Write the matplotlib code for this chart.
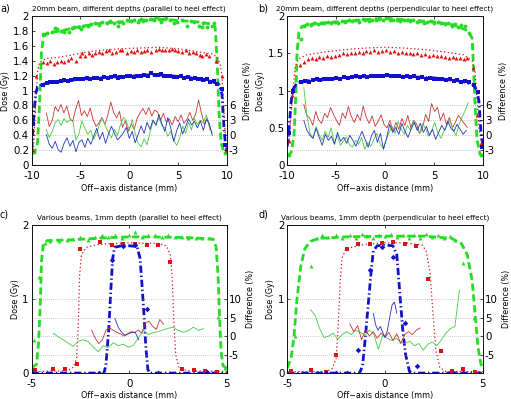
import numpy as np
import matplotlib
matplotlib.use("Agg")
import matplotlib.pyplot as plt
from matplotlib.ticker import FormatStrFormatter

plt.rcParams['font.family'] = ['DejaVu Sans']

GREEN = '#22dd22'
RED = '#dd1111'
BLUE = '#1111cc'
DGREEN = '#44cc44'
DRED = '#cc3333'
DBLUE = '#2233bb'

# ---------------- Panel a ----------------
a_green_x = [-10, -9.7, -9.4, -9.2, -9.0, -8.8, -8.5, -8, -7, -6, -5, -4, -3, -2, -1, 0, 1, 2, 3, 4, 5, 6, 7, 8, 8.5, 8.8, 9.0, 9.2, 9.4, 9.7, 10]
a_green_y = [0.15, 0.17, 0.3, 0.8, 1.5, 1.72, 1.76, 1.78, 1.8, 1.83, 1.86, 1.88, 1.9, 1.91, 1.92, 1.93, 1.94, 1.95, 1.95, 1.95, 1.94, 1.93, 1.92, 1.9, 1.89, 1.85, 1.4, 0.7, 0.3, 0.17, 0.15]
a_red_x = [-10, -9.8, -9.6, -9.4, -9.2, -8.5, -7, -5, -3, -1, 1, 3, 5, 7, 8.5, 9.0, 9.3, 9.5, 9.7, 9.9, 10]
a_red_y = [0.2, 0.25, 0.8, 1.25, 1.38, 1.43, 1.45, 1.5, 1.54, 1.56, 1.57, 1.58, 1.56, 1.52, 1.49, 1.45, 1.35, 1.2, 0.7, 0.25, 0.2]
a_blue_x = [-10, -9.85, -9.6, -9.4, -9, -8, -6, -4, -2, 0, 2, 3, 5, 7, 8.5, 9.2, 9.5, 9.7, 9.85, 10]
a_blue_y = [0.2, 0.55, 0.95, 1.05, 1.08, 1.11, 1.14, 1.16, 1.18, 1.19, 1.21, 1.21, 1.19, 1.16, 1.12, 1.08, 0.95, 0.5, 0.28, 0.2]

a_gm_x = [-9.8, -8.8, -8.4, -7.9, -7.6, -7.4, -7.0, -6.7, -6.2, -5.9, -5.7, -5.2, -4.9, -4.7, -4.2, -3.9, -3.5, -3.1, -2.8, -2.3, -2.0, -1.6, -1.2, -1.1, -0.6, -0.2, 0.2, 0.5, 0.9, 1.15, 1.4, 1.7, 2.2, 2.5, 2.7, 3.0, 3.3, 3.5, 3.8, 4.2, 4.6, 4.9, 5.4, 5.9, 6.3, 6.6, 7.1, 7.4, 7.6, 8.0, 8.5, 8.7, 9.8]
a_gm_y = [0.18, 1.76, 1.77, 1.79, 1.84, 1.83, 1.80, 1.79, 1.79, 1.84, 1.85, 1.85, 1.83, 1.87, 1.87, 1.89, 1.90, 1.88, 1.92, 1.90, 1.93, 1.91, 1.87, 1.92, 1.90, 1.94, 1.93, 1.94, 1.92, 1.96, 1.93, 1.94, 1.96, 1.94, 1.99, 1.96, 1.92, 1.96, 1.97, 1.94, 1.90, 1.92, 1.94, 1.87, 1.93, 1.92, 1.87, 1.85, 1.90, 1.85, 1.87, 1.90, 0.17]
a_rm_x = [-9.85, -9.55, -8.8, -8.4, -8.1, -7.7, -7.4, -7.0, -6.7, -6.3, -6.0, -5.5, -5.1, -4.8, -4.5, -4.15, -3.8, -3.5, -3.1, -2.8, -2.4, -2.1, -1.8, -1.4, -1.0, -0.7, -0.2, 0.2, 0.5, 0.8, 1.15, 1.5, 1.8, 2.2, 2.7, 3.0, 3.4, 3.7, 4.1, 4.4, 4.7, 5.0, 5.4, 5.8, 6.1, 6.5, 6.8, 7.2, 7.5, 7.9, 8.2, 8.85, 9.5, 9.9]
a_rm_y = [0.20, 1.20, 1.38, 1.37, 1.40, 1.36, 1.38, 1.40, 1.38, 1.41, 1.43, 1.40, 1.46, 1.50, 1.47, 1.50, 1.48, 1.50, 1.52, 1.50, 1.53, 1.54, 1.51, 1.52, 1.55, 1.54, 1.50, 1.53, 1.52, 1.55, 1.52, 1.53, 1.54, 1.52, 1.54, 1.56, 1.54, 1.55, 1.54, 1.56, 1.54, 1.53, 1.52, 1.54, 1.50, 1.52, 1.50, 1.48, 1.47, 1.49, 1.47, 1.40, 1.20, 0.20]
a_bm_x = [-9.85, -8.8, -8.4, -8.1, -7.7, -7.4, -7.0, -6.7, -6.3, -6.0, -5.6, -5.3, -5.0, -4.7, -4.3, -4.0, -3.6, -3.3, -2.9, -2.6, -2.2, -1.9, -1.5, -1.2, -0.9, -0.6, -0.2, 0.1, 0.5, 0.8, 1.2, 1.5, 1.9, 2.2, 2.6, 2.9, 3.2, 3.55, 3.9, 4.2, 4.6, 4.9, 5.3, 5.6, 6.0, 6.3, 6.7, 7.0, 7.3, 7.6, 8.0, 8.3, 8.7, 9.0, 9.5, 9.85]
a_bm_y = [0.55, 1.08, 1.10, 1.11, 1.12, 1.11, 1.13, 1.14, 1.13, 1.14, 1.15, 1.16, 1.15, 1.16, 1.17, 1.16, 1.17, 1.17, 1.16, 1.18, 1.17, 1.18, 1.19, 1.17, 1.18, 1.18, 1.19, 1.20, 1.18, 1.20, 1.19, 1.21, 1.20, 1.23, 1.21, 1.21, 1.22, 1.20, 1.19, 1.20, 1.18, 1.18, 1.19, 1.17, 1.18, 1.16, 1.17, 1.16, 1.15, 1.14, 1.15, 1.12, 1.13, 1.09, 1.02, 0.27]

a_dred_range = (-8.5, 8.3)
a_dred = [4.5, 1.8, 3.0, 5.8, 4.8, 6.2, 4.5, 5.9, 3.5, 2.8, 5.2, 7.0, 4.0, 4.9, 3.8, 5.5, 3.1, 1.8, 2.5, 3.6, 2.2, 4.0, 6.7, 4.6, 3.5, 4.8, 1.6, 2.9, 0.8, 2.3, 1.2, 3.4, 4.5, 5.4, 4.2, 5.6, 3.9, 5.1, 4.7, 3.0, 4.4, 2.6, 3.3, 2.1, 3.8, 2.7, 4.1, 2.4, 3.2, 4.6, 3.0, 4.3, 7.1, 4.4, 2.2, 3.5, 1.0]
a_dgreen_range = (-8.5, 8.5)
a_dgreen = [1.2, -0.5, 0.8, 2.5, 3.2, 2.0, 3.4, 2.6, 3.1, 2.8, -1.0, 0.3, 2.9, 1.5, 0.2, 1.0, -0.8, 0.5, 2.4, 3.3, 1.8, 0.6, -0.5, 1.2, 0.0, 2.1, 3.6, 2.9, 1.0, 3.2, 0.4, -1.6, -2.3, -0.7, -1.9, 0.6, 2.8, 2.2, 3.5, 2.0, 1.5, -0.2, 0.8, -1.0, -2.0, -0.6, 1.9, 0.4, 2.6, 1.1, 3.4, 2.2, 3.0, 2.5, 4.1, 1.8, 0.5]
a_dblue_range = (-8.5, 8.5)
a_dblue = [0.2, -1.8, -2.6, -1.2, -2.9, -3.4, -1.6, -0.5, -2.2, -1.0, -3.3, -1.4, -0.9, -2.4, -0.6, -1.8, -0.2, 1.4, -0.8, 0.6, -1.6, 0.3, 1.8, 0.4, -0.9, -0.3, 0.5, 1.6, -0.6, 0.8, -1.5, 0.2, 1.9, 0.4, 2.6, 1.2, 3.1, 2.0, 4.2, 2.3, 0.8, 3.6, 1.4, -1.2, 0.9, 2.5, 0.3, 1.7, 3.3, 2.1, 2.8, 1.5, 2.9, 1.0, 3.2, 2.4, 0.0]

# ---------------- Panel b ----------------
b_green_x = [-10, -9.6, -9.3, -9.1, -9.0, -8.8, -8.5, -7, -5, -3, -1, 0, 1, 3, 5, 7, 8.5, 8.9, 9.05, 9.2, 9.4, 9.7, 10]
b_green_y = [0.12, 0.17, 0.4, 1.0, 1.5, 1.78, 1.86, 1.9, 1.92, 1.94, 1.96, 1.97, 1.96, 1.94, 1.92, 1.88, 1.8, 1.7, 1.3, 0.8, 0.35, 0.15, 0.12]
b_red_x = [-10, -9.8, -9.6, -9.4, -9.2, -8.9, -8, -6, -4, -2, 0, 2, 4, 6, 8, 8.9, 9.2, 9.4, 9.6, 9.8, 10]
b_red_y = [0.3, 0.35, 0.7, 1.0, 1.3, 1.42, 1.48, 1.52, 1.55, 1.57, 1.58, 1.57, 1.55, 1.52, 1.48, 1.4, 1.25, 0.9, 0.5, 0.35, 0.3]
b_blue_x = [-10, -9.85, -9.6, -9.4, -9, -8, -5, -2, 0, 2, 5, 8, 9, 9.4, 9.6, 9.8, 10]
b_blue_y = [0.25, 0.43, 0.85, 1.02, 1.1, 1.13, 1.16, 1.19, 1.2, 1.19, 1.17, 1.12, 1.08, 1.0, 0.85, 0.45, 0.25]

b_gm_x = [-9.8, -8.6, -8.3, -8.0, -7.6, -7.3, -6.9, -6.5, -6.2, -5.8, -5.5, -5.1, -4.8, -4.4, -4.1, -3.7, -3.4, -3.0, -2.7, -2.3, -2.0, -1.6, -1.3, -0.9, -0.6, -0.2, 0.1, 0.5, 0.8, 1.2, 1.5, 1.9, 2.2, 2.6, 2.9, 3.3, 3.6, 4.0, 4.3, 4.7, 5.0, 5.4, 5.7, 6.1, 6.4, 6.8, 7.1, 7.5, 7.8, 8.2, 8.6, 9.8]
b_gm_y = [0.13, 1.69, 1.86, 1.89, 1.88, 1.90, 1.89, 1.91, 1.90, 1.92, 1.91, 1.92, 1.91, 1.93, 1.92, 1.94, 1.93, 1.95, 1.92, 1.96, 1.94, 1.93, 1.95, 1.94, 1.96, 1.95, 1.97, 1.95, 1.94, 1.95, 1.93, 1.94, 1.95, 1.93, 1.94, 1.92, 1.93, 1.91, 1.92, 1.93, 1.90, 1.92, 1.91, 1.89, 1.90, 1.87, 1.89, 1.85, 1.88, 1.86, 1.77, 0.14]
b_rm_x = [-9.8, -9.5, -8.7, -8.3, -7.9, -7.5, -7.1, -6.7, -6.3, -5.9, -5.5, -5.1, -4.7, -4.3, -3.9, -3.5, -3.1, -2.7, -2.3, -1.9, -1.5, -1.1, -0.7, -0.3, 0.1, 0.5, 0.9, 1.3, 1.7, 2.1, 2.5, 2.9, 3.3, 3.7, 4.1, 4.5, 4.9, 5.3, 5.7, 6.1, 6.5, 6.9, 7.3, 7.7, 8.1, 8.4, 9.0, 9.4, 9.8]
b_rm_y = [0.32, 0.94, 1.34, 1.38, 1.42, 1.44, 1.42, 1.45, 1.44, 1.46, 1.45, 1.47, 1.48, 1.50, 1.49, 1.51, 1.50, 1.52, 1.51, 1.53, 1.52, 1.54, 1.52, 1.53, 1.54, 1.52, 1.53, 1.51, 1.52, 1.50, 1.51, 1.49, 1.50, 1.48, 1.49, 1.47, 1.48, 1.46, 1.47, 1.45, 1.44, 1.45, 1.43, 1.44, 1.42, 1.43, 1.30, 0.67, 0.30]
b_bm_x = [-9.85, -9.4, -8.6, -8.2, -7.8, -7.4, -7.0, -6.6, -6.2, -5.8, -5.4, -5.0, -4.6, -4.2, -3.8, -3.4, -3.0, -2.6, -2.2, -1.8, -1.4, -1.0, -0.6, -0.2, 0.2, 0.6, 1.0, 1.4, 1.8, 2.2, 2.6, 3.0, 3.4, 3.8, 4.2, 4.6, 5.0, 5.4, 5.8, 6.2, 6.6, 7.0, 7.4, 7.8, 8.2, 8.6, 9.1, 9.55, 9.9]
b_bm_y = [0.43, 1.00, 1.12, 1.13, 1.12, 1.14, 1.15, 1.14, 1.16, 1.15, 1.16, 1.17, 1.16, 1.18, 1.17, 1.18, 1.19, 1.18, 1.19, 1.18, 1.20, 1.19, 1.20, 1.19, 1.21, 1.20, 1.19, 1.20, 1.18, 1.19, 1.18, 1.19, 1.17, 1.18, 1.16, 1.17, 1.16, 1.15, 1.16, 1.14, 1.15, 1.13, 1.14, 1.12, 1.13, 1.11, 1.08, 0.98, 0.25]

b_dred_range = (-8.3, 8.4)
b_dred = [6.2, 4.0, 3.5, 2.0, 4.8, 3.1, 2.4, 4.4, 3.6, 5.6, 4.2, 3.0, 2.0, 4.5, 3.4, 5.8, 3.8, 2.6, 4.2, 3.0, 5.9, 3.6, 2.4, 3.9, 1.8, 2.8, 4.1, 2.2, 1.5, 3.0, 0.8, 2.6, 1.2, 3.4, 2.0, 4.0, 1.6, 3.0, 2.2, 0.4, 1.6, 4.2, 2.8, 6.4, 4.8, 5.6, 3.0, 4.5, 2.2, 3.6, 1.5, 2.6, 4.0, 3.2, 2.4, 1.6]
b_dgreen_range = (-8.3, 8.5)
b_dgreen = [9.6, 4.0, 0.5, -0.6, 1.8, 0.2, -1.0, 0.8, -0.4, 1.5, -1.6, 0.0, -2.0, -1.2, -0.3, -1.9, -2.4, -1.0, -1.8, -0.4, -2.8, -1.4, -2.2, -0.8, 0.4, -1.6, -2.6, -1.0, 0.6, 1.8, 0.4, 2.8, 1.2, 0.2, 2.0, 1.0, 3.0, 1.6, 0.4, 2.4, 1.4, -0.2, 1.0, 2.6, 0.6, -0.6, 0.8, 2.0, 3.0, 1.2, 0.0, 2.2, 3.6, 5.0, 6.6]
b_dblue_range = (-8.3, 8.3)
b_dblue = [3.0, 1.0, 0.0, -0.6, 1.4, -0.4, -2.0, 0.2, -1.0, -0.2, -1.8, 0.6, -1.2, -0.4, -1.6, 0.0, -1.0, -2.2, -0.6, 0.8, -0.8, -2.4, -0.2, 1.0, -1.4, 0.4, -2.8, -0.6, 2.2, 0.6, 1.6, 0.2, 2.4, 0.8, -0.4, 1.2, 2.6, 1.0, 2.4, 0.6, 1.8, 0.0, 1.2, -0.8, 0.6, 2.0, 1.0, 2.8, 1.4, 0.8, 2.2, 1.2, 0.2, 1.0]

# ---------------- Panel c ----------------
c_green_x = [-5, -4.75, -4.65, -4.55, -4.5, -4.4, -4.2, -3, -1, 0, 1, 3, 4.3, 4.45, 4.55, 4.62, 4.7, 4.8, 5]
c_green_y = [0.07, 0.12, 0.4, 1.0, 1.5, 1.75, 1.79, 1.8, 1.83, 1.84, 1.84, 1.83, 1.81, 1.7, 1.3, 0.8, 0.3, 0.1, 0.06]
c_red_x = [-5, -3.2, -2.85, -2.7, -2.62, -2.55, -2.45, -2.2, -1.5, 0, 1.5, 1.9, 2.1, 2.2, 2.28, 2.38, 2.55, 3, 5]
c_red_y = [0.02, 0.03, 0.08, 0.2, 0.6, 1.3, 1.6, 1.7, 1.74, 1.76, 1.75, 1.72, 1.6, 1.3, 0.7, 0.25, 0.07, 0.03, 0.02]
c_blue_x = [-5, -1.3, -1.2, -1.05, -0.95, -0.85, -0.75, -0.4, 0, 0.4, 0.55, 0.65, 0.75, 0.85, 0.95, 1.05, 5]
c_blue_y = [0, 0, 0.1, 0.6, 1.1, 1.55, 1.7, 1.72, 1.72, 1.71, 1.55, 1.2, 0.8, 0.35, 0.05, 0, 0]

c_gm_x = [-4.9, -4.6, -4.3, -4.06, -3.6, -3.2, -2.86, -2.5, -2.1, -1.75, -1.4, -1.07, -0.73, -0.38, -0.04, 0.3, 0.64, 0.98, 1.32, 1.67, 2.0, 2.35, 2.7, 3.03, 3.4, 3.7, 4.06, 4.57, 4.9]
c_gm_y = [0.45, 1.30, 1.76, 1.78, 1.79, 1.80, 1.81, 1.84, 1.80, 1.84, 1.87, 1.84, 1.87, 1.82, 1.87, 1.91, 1.84, 1.87, 1.87, 1.84, 1.87, 1.84, 1.84, 1.82, 1.82, 1.82, 1.82, 0.76, 0.07]
c_rm_x = [-4.83, -3.89, -3.29, -2.69, -2.5, -1.5, -0.9, -0.3, 0.3, 0.9, 1.49, 2.09, 2.7, 3.29, 3.89, 4.49]
c_rm_y = [0.04, 0.05, 0.06, 0.12, 1.68, 1.77, 1.73, 1.74, 1.75, 1.73, 1.73, 1.50, 0.06, 0.04, 0.03, 0.02]
c_bm_x = [-1.55, -0.91, -0.31, 0.29, 0.89, 1.48, 3.97]
c_bm_y = [0.0, 1.53, 1.72, 1.73, 0.86, 0.0, 0.02]

c_dgreen_range = (-3.9, 3.8)
c_dgreen = [0.8, -0.2, -1.0, -1.9, -2.8, -1.4, -1.0, -1.5, -3.0, -4.2, -2.6, -3.1, -1.8, -2.6, -2.2, -3.0, -2.5, -0.5, 1.6, 0.4, 0.9, 1.2, 1.7, 2.1, 2.4, 1.5, 1.0, 1.5, 2.4, 1.5, 2.0]
c_dred_range = (-1.93, 1.75)
c_dred = [1.6, -0.6, -2.0, -1.0, 1.6, 2.2, 1.6, 1.0, 0.6, 0.0, 0.6, 1.2, 1.0, 1.6, 0.8, 3.6, 4.0, 2.6, 1.8, 4.5, 3.2]
c_dblue_range = (-0.74, 0.48)
c_dblue = [4.8, 2.4, 1.0, 0.2, 0.6, 1.0, 1.0, -1.0]

# ---------------- Panel d ----------------
d_green_x = [-5, -4.8, -4.65, -4.5, -4.3, -4.1, -3.8, -3.4, -2, 0, 2, 3.4, 3.9, 4.2, 4.45, 4.6, 4.75, 4.9, 5]
d_green_y = [0.07, 0.2, 0.5, 1.0, 1.45, 1.68, 1.78, 1.82, 1.84, 1.85, 1.85, 1.82, 1.75, 1.6, 1.25, 0.8, 0.35, 0.12, 0.07]
d_red_x = [-5, -3, -2.7, -2.5, -2.4, -2.3, -2.2, -2.0, -1, 0, 1, 1.9, 2.1, 2.3, 2.45, 2.6, 2.8, 3.1, 5]
d_red_y = [0.02, 0.02, 0.06, 0.2, 0.6, 1.2, 1.55, 1.68, 1.74, 1.76, 1.76, 1.73, 1.65, 1.35, 0.8, 0.3, 0.08, 0.02, 0.02]
d_blue_x = [-5, -1.3, -1.15, -1.0, -0.85, -0.7, -0.6, -0.4, 0, 0.4, 0.6, 0.75, 0.9, 1.05, 1.25, 1.4, 5]
d_blue_y = [0, 0, 0.1, 0.5, 0.95, 1.4, 1.65, 1.72, 1.73, 1.72, 1.6, 1.1, 0.6, 0.25, 0.02, 0, 0]

d_gm_x = [-4.6, -3.8, -3.5, -3.2, -2.9, -2.5, -2.2, -1.8, -1.5, -1.2, -0.9, -0.6, -0.3, 0.0, 0.3, 0.6, 0.9, 1.2, 1.5, 1.8, 2.1, 2.4, 2.7, 3.0, 3.3, 3.6, 4.0, 4.52]
d_gm_y = [0.50, 1.44, 1.82, 1.86, 1.84, 1.87, 1.82, 1.86, 1.83, 1.88, 1.85, 1.82, 1.87, 1.85, 1.88, 1.84, 1.87, 1.82, 1.86, 1.83, 1.88, 1.84, 1.86, 1.82, 1.85, 1.80, 1.49, 0.74]
d_rm_x = [-4.8, -3.8, -3.0, -2.5, -1.94, -1.36, -0.77, -0.17, 0.42, 1.02, 1.6, 2.2, 2.85, 3.4, 4.0, 4.6]
d_rm_y = [0.03, 0.04, 0.02, 0.25, 1.68, 1.75, 1.74, 1.76, 1.77, 1.75, 1.72, 1.27, 0.30, 0.03, 0.05, 0.02]
d_bm_x = [-3.0, -2.5, -1.94, -1.36, -0.77, -0.17, 0.42, 1.02, 1.65, 3.5, 4.0]
d_bm_y = [0.0, 0.0, 0.0, 0.31, 1.39, 1.71, 1.57, 0.67, 0.09, 0.0, 0.0]

d_dgreen_range = (-3.8, 3.8)
d_dgreen = [7.1, 5.6, 2.0, -0.4, 0.0, 0.8, -0.8, 0.4, 1.2, 0.4, 1.6, 1.0, 0.2, 1.6, 0.6, -3.6, 0.2, -0.6, -1.2, -0.6, -1.8, -2.0, -1.4, -2.6, -2.0, -3.8, -2.2, -1.6, -2.6, -1.0, 0.8, 2.0, 2.6, 12.4]
d_dred_range = (-1.8, 1.8)
d_dred = [3.3, 1.2, 2.8, -1.0, 1.6, 0.0, 1.2, -0.6, 0.8, -0.2, 1.0, -1.2, 0.6, -2.0, 0.4, 1.2, 0.4, 1.6, 2.2]
d_dblue_range = (-0.6, 0.6)
d_dblue = [6.1, 3.0, 1.6, 2.6, 1.0, -0.4, 1.5, 5.0, 8.4, 9.2, 6.2]

fig = plt.figure(figsize=(5.11, 3.99), dpi=100)

TICK_FS = 7.4
LAB_FS = 5.8
TIT_FS = 5.2


def panel(rect, xlim, xticks, yticks, rlim, rticks, title, letter, letter_pos,
          gline, rline, bline, gm, rm, bm, gmark, rmark, bmark, diffs):
    ax = fig.add_axes(rect)
    ax.plot(gline[0], gline[1], color=GREEN, lw=2.0, dashes=(2.6, 1.3), zorder=2)
    ax.plot(rline[0], rline[1], color=RED, lw=0.9, linestyle=(0, (1, 2)), zorder=2)
    ax.plot(bline[0], bline[1], color=BLUE, lw=2.0, dashes=(2.6, 1.0, 0.5, 1.0), zorder=2)
    ax.plot(gm[0], gm[1], linestyle='none', marker=gmark, color=GREEN, ms=2.8, mew=0, zorder=3)
    ax.plot(rm[0], rm[1], linestyle='none', marker=rmark, color=RED, ms=2.8, mew=0, zorder=3)
    ax.plot(bm[0], bm[1], linestyle='none', marker=bmark, color=BLUE, ms=2.8, mew=0, zorder=3)
    ax.set_xlim(*xlim)
    ax.set_ylim(0, 2)
    ax.set_xticks(xticks)
    ax.set_yticks(yticks)
    ax.yaxis.set_major_formatter(FormatStrFormatter('%g'))
    ax.xaxis.set_major_formatter(FormatStrFormatter('%g'))
    ax.tick_params(direction='in', length=2.5, width=0.5, labelsize=TICK_FS, top=True)
    ax.tick_params(axis='y', pad=2)
    ax.tick_params(axis='x', pad=4)
    ax.set_xlabel('Off\u2212axis distance (mm)', fontsize=LAB_FS, labelpad=2)
    ax.set_ylabel('Dose (Gy)', fontsize=LAB_FS, labelpad=2)
    ax.set_title(title, fontsize=TIT_FS, pad=4)
    for s in ax.spines.values():
        s.set_linewidth(0.5)
    ax2 = ax.twinx()
    ax2.set_ylim(*rlim)
    ax2.set_yticks(rticks)
    ax2.yaxis.set_major_formatter(FormatStrFormatter('%g'))
    ax2.tick_params(direction='in', length=2.5, width=0.5, labelsize=TICK_FS, pad=1.5)
    ax2.grid(axis='y', linestyle=(0, (1, 2)), color='#999999', lw=0.5)
    ax2.set_ylabel('Difference (%)', fontsize=LAB_FS, labelpad=3)
    for (rng, vals, col) in diffs:
        xs = np.linspace(rng[0], rng[1], len(vals))
        ax2.plot(xs, vals, color=col, lw=0.6)
    for s in ax2.spines.values():
        s.set_linewidth(0.5)
    fig.text(letter_pos[0], letter_pos[1], letter, fontsize=7, ha='left', va='center')
    return ax, ax2


panel([0.062, 0.586, 0.382, 0.374], (-10, 10), [-10, -5, 0, 5, 10],
      [0, 0.2, 0.4, 0.6, 0.8, 1.0, 1.2, 1.4, 1.6, 1.8, 2.0], (-6, 24), [-3, 0, 3, 6],
      '20mm beam, different depths (parallel to heel effect)', 'a)', (0.0, 0.978),
      (a_green_x, a_green_y), (a_red_x, a_red_y), (a_blue_x, a_blue_y),
      (a_gm_x, a_gm_y), (a_rm_x, a_rm_y), (a_bm_x, a_bm_y), 'o', '^', 's',
      [(a_dred_range, a_dred, DRED), (a_dgreen_range, a_dgreen, DGREEN), (a_dblue_range, a_dblue, DBLUE)])

panel([0.562, 0.586, 0.383, 0.374], (-10, 10), [-10, -5, 0, 5, 10],
      [0, 0.5, 1.0, 1.5, 2.0], (-6, 24), [-3, 0, 3, 6],
      '20mm beam, different depths (perpendicular to heel effect)', 'b)', (0.505, 0.978),
      (b_green_x, b_green_y), (b_red_x, b_red_y), (b_blue_x, b_blue_y),
      (b_gm_x, b_gm_y), (b_rm_x, b_rm_y), (b_bm_x, b_bm_y), 'o', '^', 's',
      [(b_dred_range, b_dred, DRED), (b_dgreen_range, b_dgreen, DGREEN), (b_dblue_range, b_dblue, DBLUE)])

panel([0.062, 0.065, 0.382, 0.371], (-5, 5), [-5, 0, 5],
      [0, 1, 2], (-10, 30), [-5, 0, 5, 10],
      'Various beams, 1mm depth (parallel to heel effect)', 'c)', (0.0, 0.462),
      (c_green_x, c_green_y), (c_red_x, c_red_y), (c_blue_x, c_blue_y),
      (c_gm_x, c_gm_y), (c_rm_x, c_rm_y), (c_bm_x, c_bm_y), '^', 's', 'D',
      [(c_dgreen_range, c_dgreen, DGREEN), (c_dred_range, c_dred, DRED), (c_dblue_range, c_dblue, DBLUE)])

panel([0.562, 0.065, 0.383, 0.371], (-5, 5), [-5, 0, 5],
      [0, 1, 2], (-10, 30), [-5, 0, 5, 10],
      'Various beams, 1mm depth (perpendicular to heel effect)', 'd)', (0.505, 0.462),
      (d_green_x, d_green_y), (d_red_x, d_red_y), (d_blue_x, d_blue_y),
      (d_gm_x, d_gm_y), (d_rm_x, d_rm_y), (d_bm_x, d_bm_y), '^', 's', 'D',
      [(d_dgreen_range, d_dgreen, DGREEN), (d_dred_range, d_dred, DRED), (d_dblue_range, d_dblue, DBLUE)])

fig.savefig('out.png', dpi=100)
